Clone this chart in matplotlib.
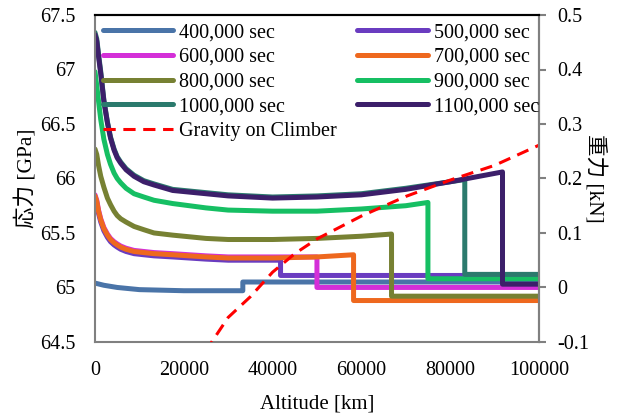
import matplotlib
matplotlib.use('Agg')
import matplotlib.pyplot as plt

plt.rcParams['font.family'] = ['Liberation Serif', 'Noto Sans CJK JP']

# stress [GPa] vs altitude [km]
alt_base = [0, 400, 800, 1300, 2000, 2800, 3500, 4300, 5000, 5800, 7000, 8800, 11000, 13300, 17500, 25000, 30000]

alt_400 = [0, 2000, 5000, 10000, 20000, 33300, 33300, 100000]
s_400 = [65.04, 65.02, 65.00, 64.98, 64.97, 64.97, 65.05, 65.05]

alt_500 = alt_base + [41800, 41800, 100000]
s_500 = [65.82, 65.77, 65.68, 65.60, 65.52, 65.46, 65.42, 65.39, 65.37, 65.35, 65.33, 65.31, 65.30, 65.29, 65.28, 65.26, 65.25,
         65.25, 65.11, 65.11]

alt_600 = alt_base + [40000, 50000, 50000, 100000]
s_600 = [65.85, 65.80, 65.71, 65.63, 65.55, 65.49, 65.45, 65.42, 65.40, 65.38, 65.36, 65.34, 65.33, 65.32, 65.31, 65.29, 65.28,
         65.28, 65.28, 65.00, 65.00]

alt_700 = alt_base + [40000, 50000, 58250, 58250, 100000]
s_700 = [65.84, 65.79, 65.70, 65.62, 65.54, 65.48, 65.44, 65.41, 65.39, 65.37, 65.35, 65.33, 65.32, 65.31, 65.30, 65.28, 65.27,
         65.27, 65.28, 65.30, 64.88, 64.88]

alt_800 = alt_base + [40000, 50000, 60000, 66800, 66800, 100000]
s_800 = [66.27, 66.22, 66.12, 66.02, 65.92, 65.82, 65.76, 65.70, 65.66, 65.63, 65.60, 65.56, 65.53, 65.50, 65.48, 65.45, 65.44,
         65.44, 65.45, 65.47, 65.49, 64.92, 64.92]

alt_900 = alt_base + [40000, 50000, 60000, 70000, 75000, 75000, 100000]
s_900 = [66.98, 66.85, 66.71, 66.54, 66.36, 66.22, 66.13, 66.05, 66.00, 65.96, 65.91, 65.86, 65.83, 65.80, 65.77, 65.73, 65.71,
         65.70, 65.70, 65.72, 65.75, 65.78, 65.08, 65.08]

alt_1000 = alt_base + [40000, 50000, 60000, 70000, 80000, 83300, 83300, 100000]
s_1000 = [67.34, 67.28, 67.14, 66.98, 66.72, 66.52, 66.38, 66.27, 66.20, 66.15, 66.09, 66.03, 65.98, 65.95, 65.90, 65.87, 65.85,
          65.83, 65.84, 65.86, 65.91, 65.97, 65.99, 65.12, 65.12]

alt_1100 = alt_base + [40000, 50000, 60000, 70000, 80000, 91800, 91800, 100000]
s_1100 = [67.32, 67.26, 67.12, 66.96, 66.71, 66.51, 66.37, 66.26, 66.19, 66.14, 66.08, 66.02, 65.97, 65.94, 65.89, 65.86, 65.84,
          65.82, 65.83, 65.85, 65.90, 65.97, 66.06, 65.03, 65.03]

# gravity on climber [kN]
alt_g = [25000, 26300, 30000, 35000, 40000, 45000, 50000, 60000, 70000, 80000, 90000, 100000]
grav = [-0.118, -0.100, -0.055, -0.017, 0.028, 0.062, 0.089, 0.131, 0.167, 0.197, 0.224, 0.261]

labels = ['400,000 sec', '500,000 sec', '600,000 sec', '700,000 sec',
          '800,000 sec', '900,000 sec', '1000,000 sec', '1100,000 sec']
colors = ['#4a74a8', '#6a3cc0', '#d42fd8', '#ee681e',
          '#778133', '#16bf63', '#2b7a6d', '#3c1f6a']
alts = [alt_400, alt_500, alt_600, alt_700, alt_800, alt_900, alt_1000, alt_1100]
stress = [s_400, s_500, s_600, s_700, s_800, s_900, s_1000, s_1100]

fig = plt.figure(figsize=(6.27, 4.17), dpi=100)
ax = fig.add_axes([0.1515, 0.18, 0.708, 0.784])

handles = []
for a, s, c, lab in zip(alts, stress, colors, labels):
    h, = ax.plot(a, s, color=c, lw=3.6, label=lab, solid_capstyle='round', solid_joinstyle='round')
    handles.append(h)

ax.set_xlim(0, 100000)
ax.set_ylim(64.5, 67.5)
ax.set_xticks([0, 20000, 40000, 60000, 80000, 100000])
ax.set_xticklabels(['0', '20000', '40000', '60000', '80000', '100000'])
ax.set_yticks([64.5, 65, 65.5, 66, 66.5, 67, 67.5])
ax.set_yticklabels(['64.5', '65', '65.5', '66', '66.5', '67', '67.5'])
ax.tick_params(axis='both', length=0, labelsize=14.5)
ax.tick_params(axis='y', pad=14)
ax.tick_params(axis='x', pad=14)
ax.set_xlabel('Altitude [km]', fontsize=15, labelpad=10)
ax.set_ylabel('応力 [GPa]', fontsize=15.5, labelpad=2)
for side in ['left', 'bottom', 'right']:
    ax.spines[side].set_color('#808080')
    ax.spines[side].set_linewidth(1.5)
ax.spines['top'].set_color('black')
ax.spines['top'].set_linewidth(1.5)

ax2 = ax.twinx()
g, = ax2.plot(alt_g, grav, color='red', lw=2.2, ls=(0, (4, 2.5)), label='Gravity on Climber')
ax2.set_ylim(-0.1, 0.5)
ax2.set_yticks([-0.1, 0, 0.1, 0.2, 0.3, 0.4, 0.5])
ax2.set_yticklabels(['-0.1', '0', '0.1', '0.2', '0.3', '0.4', '0.5'])
ax2.tick_params(axis='y', length=5, width=1.5, color='#808080', labelsize=14.5, pad=8)
ax2.set_ylabel('重力 [kN]', fontsize=15.5, rotation=270, labelpad=12)
ax2.spines['right'].set_color('#808080')
ax2.spines['right'].set_linewidth(1.5)
ax2.spines['left'].set_visible(False)
ax2.spines['bottom'].set_visible(False)
ax2.spines['top'].set_color('black')
ax2.spines['top'].set_linewidth(1.5)

# legend is filled column by column
order = [0, 2, 4, 6, 1, 3, 5, 7]
leg_h = [handles[i] for i in order[:4]] + [g] + [handles[i] for i in order[4:]]
leg = ax2.legend(leg_h, [h.get_label() for h in leg_h], ncol=2, loc='upper left',
                 bbox_to_anchor=(-0.01, 1.012), frameon=False, fontsize=14.5,
                 handlelength=3.5, handletextpad=0.3, labelspacing=0.28,
                 columnspacing=1.0, borderaxespad=0.2)

fig.savefig('out.png', dpi=100)
